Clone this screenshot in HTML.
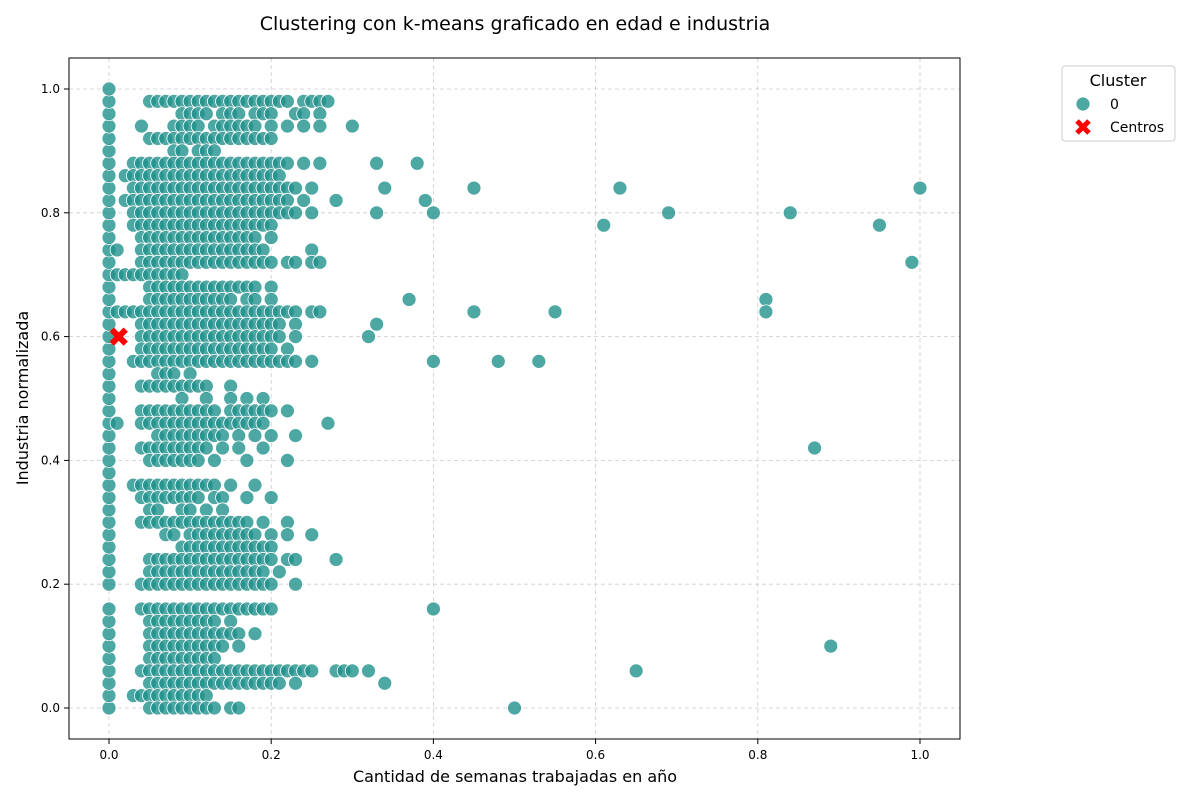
<!DOCTYPE html>
<html><head><meta charset="utf-8">
<style>
body{margin:0;background:#fff;}
svg text{font-family:"DejaVu Sans","Liberation Sans",sans-serif;}
</style></head>
<body>
<svg id="chart" width="1200" height="800" viewBox="0 0 1200 800" xmlns="http://www.w3.org/2000/svg">
<rect width="1200" height="800" fill="#fff"/>
<text x="515" y="30" text-anchor="middle" font-size="19" fill="#000">Clustering con k-means graficado en edad e industria</text>
<g id="grid"></g>
<g id="points"></g>
<g id="centers"></g>
<rect x="69" y="58" width="891" height="681" fill="none" stroke="#000" stroke-width="1"/>
<g id="xticks"></g>
<g id="yticks"></g>
<text x="515" y="782" text-anchor="middle" font-size="16">Cantidad de semanas trabajadas en año</text>
<text transform="translate(28,398) rotate(-90)" text-anchor="middle" font-size="16">Industria normalizada</text>
<g>
<rect x="1062" y="66" width="113" height="75" rx="3" fill="#fff" stroke="#ccc"/>
<text x="1118" y="86" text-anchor="middle" font-size="16">Cluster</text>
<circle cx="1083" cy="104" r="7" fill="rgba(33,145,140,0.8)" stroke="#fff" stroke-width="0.8"/>
<text x="1110" y="109" font-size="14">0</text>
<path d="M1077,121 L1089,133 M1089,121 L1077,133" stroke="red" stroke-width="5"/>
<text x="1110" y="132" font-size="14">Centros</text>
</g>
</svg>
<script>
const xTicks=[0,0.2,0.4,0.6,0.8,1.0];
const xTickLabels=["0.0","0.2","0.4","0.6","0.8","1.0"];
const yTicks=[0,0.2,0.4,0.6,0.8,1.0];
const yTickLabels=["0.0","0.2","0.4","0.6","0.8","1.0"];
const zeroColumnY=[0,2,4,6,8,10,12,14,16,20,22,24,26,28,30,32,34,36,38,40,42,44,46,48,50,52,54,56,58,60,62,64,66,68,70,72,74,76,78,80,82,84,86,88,90,92,94,96,98,100];
const rowLevels=[98,96,94,92,90,88,86,84,82,80,78,76,74,72,70,68,66,64,62,60,58,56,54,52,50,48,46,44,42,40,36,34,32,30,28,26,24,22,20,16,14,12,10,8,6,4,2,0];
const rowX=[
[5,6,7,8,9,10,11,12,13,14,15,16,17,18,19,20,21,22,24,25,26,27],
[9,10,11,12,14,15,16,18,19,20,23,24,26],
[4,8,9,10,11,13,14,15,16,17,18,20,22,24,26,30],
[5,6,7,8,9,10,11,12,13,14,15,16,17,18,19,20],
[8,9,11,12,13],
[3,4,5,6,7,8,9,10,11,12,13,14,15,16,17,18,19,20,21,22,24,26,33,38],
[2,3,4,5,6,7,8,9,10,11,12,13,14,15,16,17,18,19,20,21],
[3,4,5,6,7,8,9,10,11,12,13,14,15,16,17,18,19,20,21,22,23,25,34,45,63,100],
[2,3,4,5,6,7,8,9,10,11,12,13,14,15,16,17,18,19,20,21,22,24,28,39],
[3,4,5,6,7,8,9,10,11,12,13,14,15,16,17,18,19,20,21,22,23,25,33,40,69,84],
[3,4,5,6,7,8,9,10,11,12,13,14,15,16,17,18,19,20,61,95],
[4,5,6,7,8,9,10,11,12,13,14,15,16,17,18,20],
[1,4,5,6,7,8,9,10,11,12,13,14,15,16,17,18,19,25],
[4,5,6,7,8,9,10,11,12,13,14,15,16,17,18,19,20,22,23,25,26,99],
[1,2,3,4,5,6,7,8,9],
[5,6,7,8,9,10,11,12,13,14,15,16,17,18,20],
[5,6,7,8,9,10,11,12,13,14,15,17,18,20,37,81],
[1,2,3,4,5,6,7,8,9,10,11,12,13,14,15,16,17,18,19,20,21,22,23,25,26,45,55,81],
[4,5,6,7,8,9,10,11,12,13,14,15,16,17,18,19,20,21,23,33],
[4,5,6,7,8,9,10,11,12,13,14,15,16,17,18,19,20,21,23,32],
[4,5,6,7,8,9,10,11,12,13,14,15,16,17,18,19,20,22],
[3,4,5,6,7,8,9,10,11,12,13,14,15,16,17,18,19,20,21,22,23,25,40,48,53],
[6,7,8,10],
[4,5,6,7,8,9,10,11,12,15],
[9,12,15,17,19],
[4,5,6,7,8,9,10,11,12,13,15,16,17,18,19,20,22],
[1,4,5,6,7,8,9,10,11,12,13,14,15,16,17,18,19,27],
[6,7,8,9,10,11,12,13,14,16,18,20,23],
[4,5,6,7,8,9,10,11,12,14,16,19,87],
[5,6,7,8,9,10,11,13,17,22],
[3,4,5,6,7,8,9,10,11,12,13,15,18],
[4,5,6,7,8,9,10,11,13,14,17,20],
[5,6,9,10,12,14],
[4,5,6,7,8,9,10,11,12,13,14,15,16,17,19,22],
[7,8,10,11,12,13,14,15,16,17,18,20,22,25],
[9,10,11,12,13,14,15,16,17,18,19,20],
[5,6,7,8,9,10,11,12,13,14,15,16,17,18,19,20,22,23,28],
[5,6,7,8,9,10,11,12,13,14,15,16,17,18,19,21],
[4,5,6,7,8,9,10,11,12,13,14,15,16,17,18,19,20,23],
[4,5,6,7,8,9,10,11,12,13,14,15,16,17,18,19,20,40],
[5,6,7,8,9,10,11,12,13,15],
[5,6,7,8,9,10,11,12,13,14,15,16,18],
[5,6,7,8,9,10,11,12,13,14,16,89],
[5,6,7,8,9,10,11,12,13],
[4,5,6,7,8,9,10,11,12,13,14,15,16,17,18,19,20,21,22,23,24,25,28,29,30,32,65],
[5,6,7,8,9,10,11,12,13,14,15,16,17,18,19,20,21,23,34],
[3,4,5,6,7,8,9,10,11,12],
[5,6,7,8,9,10,11,12,13,15,16,50]
];
const centerX=[0.012];
const centerY=[0.60];

const NS="http://www.w3.org/2000/svg";
const xs=v=>109+v*811;
const ys=v=>708-v*619;
function mk(tag,attrs,parent){const e=document.createElementNS(NS,tag);for(const k in attrs)e.setAttribute(k,attrs[k]);parent.appendChild(e);return e;}
const grid=document.getElementById('grid'),xt=document.getElementById('xticks'),yt=document.getElementById('yticks');
xTicks.forEach((t,i)=>{
 const x=xs(t);
 const g=mk('line',{x1:x,x2:x,y1:58,y2:739,stroke:'#ccc','stroke-dasharray':'4,3','stroke-width':0.8},grid);
 
 
 mk('line',{x1:x,x2:x,y1:739,y2:744,stroke:'#000'},xt);
 const tx=mk('text',{x:x,y:759,'text-anchor':'middle','font-size':12},xt);
 tx.textContent=xTickLabels[i];
 
 
});
yTicks.forEach((t,i)=>{
 const y=ys(t);
 const g=mk('line',{x1:69,x2:960,y1:y,y2:y,stroke:'#ccc','stroke-dasharray':'4,3','stroke-width':0.8},grid);
 
 
 mk('line',{x1:64,x2:69,y1:y,y2:y,stroke:'#000'},yt);
 const tx=mk('text',{x:60,y:y+4,'text-anchor':'end','font-size':12},yt);
 tx.textContent=yTickLabels[i];
 
 
});
const pts=document.getElementById('points');
function dot(x,y){
 const c=mk('circle',{cx:xs(x),cy:ys(y),r:7,fill:'rgba(33,145,140,0.8)',stroke:'#fff','stroke-width':0.8},pts);
 
 
}
zeroColumnY.forEach(y=>dot(0,y/100));
rowLevels.forEach((lv,i)=>rowX[i].forEach(x=>dot(x/100,lv/100)));
const cg=document.getElementById('centers');
centerX.forEach((cx,i)=>{
 const x=xs(cx),y=ys(centerY[i]);
 const p=mk('path',{d:`M${x-7},${y-7} L${x+7},${y+7} M${x+7},${y-7} L${x-7},${y+7}`,stroke:'red','stroke-width':6},cg);
 
 
});
</script>
</body></html>
